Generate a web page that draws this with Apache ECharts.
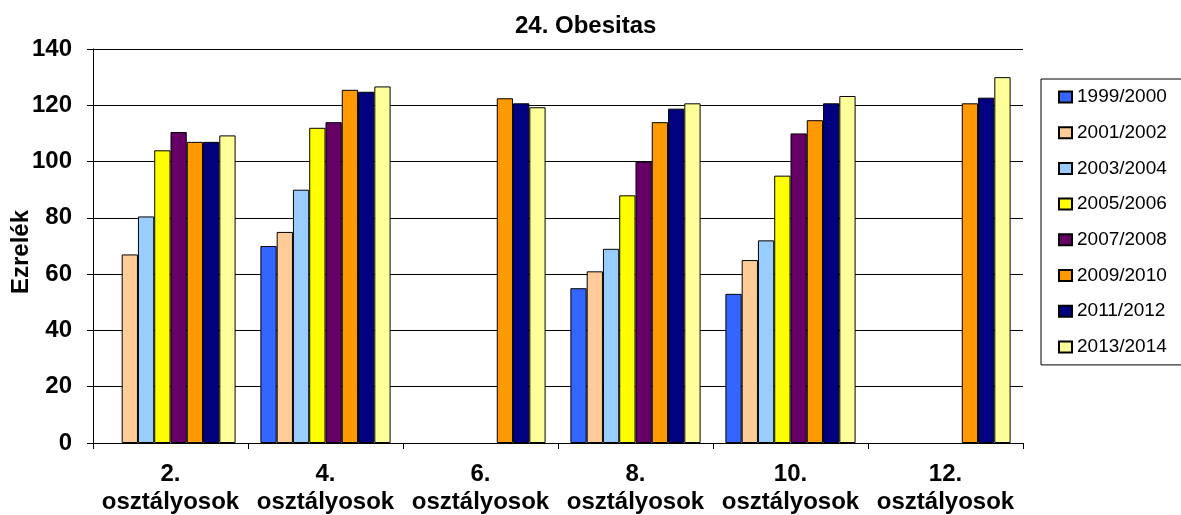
<!DOCTYPE html>
<html>
<head>
<meta charset="utf-8">
<script src="https://cdn.jsdelivr.net/npm/echarts@6/dist/echarts.min.js"></script>
<style>
html,body{margin:0;padding:0;background:#fff;}
#chart{width:1181px;height:515px;}
</style>
</head>
<body>
<div id="chart"></div>
<script>
var categories = ['2.\nosztályosok', '4.\nosztályosok', '6.\nosztályosok', '8.\nosztályosok', '10.\nosztályosok', '12.\nosztályosok'];
var seriesNames = ['1999/2000', '2001/2002', '2003/2004', '2005/2006', '2007/2008', '2009/2010', '2011/2012', '2013/2014'];
var s1999 = [null, 70, null, 55, 53, null];
var s2001 = [67, 75, null, 61, 65, null];
var s2003 = [80.5, 90, null, 69, 72, null];
var s2005 = [104, 112, null, 88, 95, null];
var s2007 = [110.5, 114, null, 100, 110, null];
var s2009 = [107, 125.5, 122.5, 114, 114.7, 120.7];
var s2011 = [107, 124.8, 120.7, 118.8, 120.7, 122.7];
var s2013 = [109.3, 126.7, 119.3, 120.7, 123.3, 130];
var yTicks = [0, 20, 40, 60, 80, 100, 120, 140];
var yAxisTitle = 'Ezrelék';

var colors = ['#3366FF', '#FFCC99', '#99CCFF', '#FFFF00', '#660066', '#FF9900', '#000080', '#FFFF99'];
var allData = [s1999, s2001, s2003, s2005, s2007, s2009, s2011, s2013];
var FONT = "'Liberation Sans', Arial, sans-serif";

var chart = echarts.init(document.getElementById('chart'), null, {renderer: 'canvas'});
var series = seriesNames.map(function (n, i) {
  return {
    name: n,
    type: 'bar',
    data: allData[i],
    barGap: '0%',
    barCategoryGap: '16%',
    itemStyle: {color: colors[i], borderColor: '#000', borderWidth: 1},
    emphasis: {disabled: true},
    animation: false
  };
});

chart.setOption({
  animation: false,
  backgroundColor: '#fff',
  title: {
    text: '24. Obesitas',
    left: 510,
    top: 9,
    textStyle: {fontFamily: FONT, fontSize: 24, fontWeight: 'bold', color: '#000'}
  },
  legend: {
    orient: 'vertical',
    left: 1041,
    top: 79,
    data: seriesNames,
    itemWidth: 13,
    itemHeight: 11,
    itemGap: 15.7,
    padding: [8, 40, 8, 17],
    borderColor: '#000',
    borderWidth: 1,
    icon: 'rect',
    textStyle: {fontFamily: FONT, fontSize: 19, color: '#000', lineHeight: 20}
  },
  graphic: [{
    type: 'text',
    x: 21,
    y: 252,
    rotation: Math.PI / 2,
    style: {
      text: yAxisTitle,
      fill: '#000',
      fontFamily: FONT,
      fontSize: 24,
      fontWeight: 'bold',
      align: 'center',
      verticalAlign: 'middle'
    }
  }],
  grid: {left: 93, right: 158, top: 49, bottom: 72, containLabel: false, outerBoundsMode: 'none'},
  xAxis: {
    type: 'category',
    data: categories,
    axisLine: {show: true, lineStyle: {color: '#000', width: 1}},
    axisTick: {show: true, alignWithLabel: false, length: 6, lineStyle: {color: '#000'}},
    axisLabel: {fontFamily: FONT, fontSize: 24, fontWeight: 'bold', color: '#000', margin: 17, lineHeight: 28, interval: 0},
    splitLine: {show: false}
  },
  yAxis: {
    type: 'value',
    min: 0,
    max: 140,
    interval: 20,
    axisLine: {show: true, lineStyle: {color: '#000', width: 1}},
    axisTick: {show: true, length: 6, lineStyle: {color: '#000'}},
    axisLabel: {fontFamily: FONT, fontSize: 24, fontWeight: 'bold', color: '#000', margin: 21,
      formatter: function (v) { return yTicks.indexOf(v) >= 0 ? String(v) : ''; }},
    splitLine: {show: true, lineStyle: {color: '#000', width: 1}}
  },
  series: series
});
</script>
</body>
</html>
